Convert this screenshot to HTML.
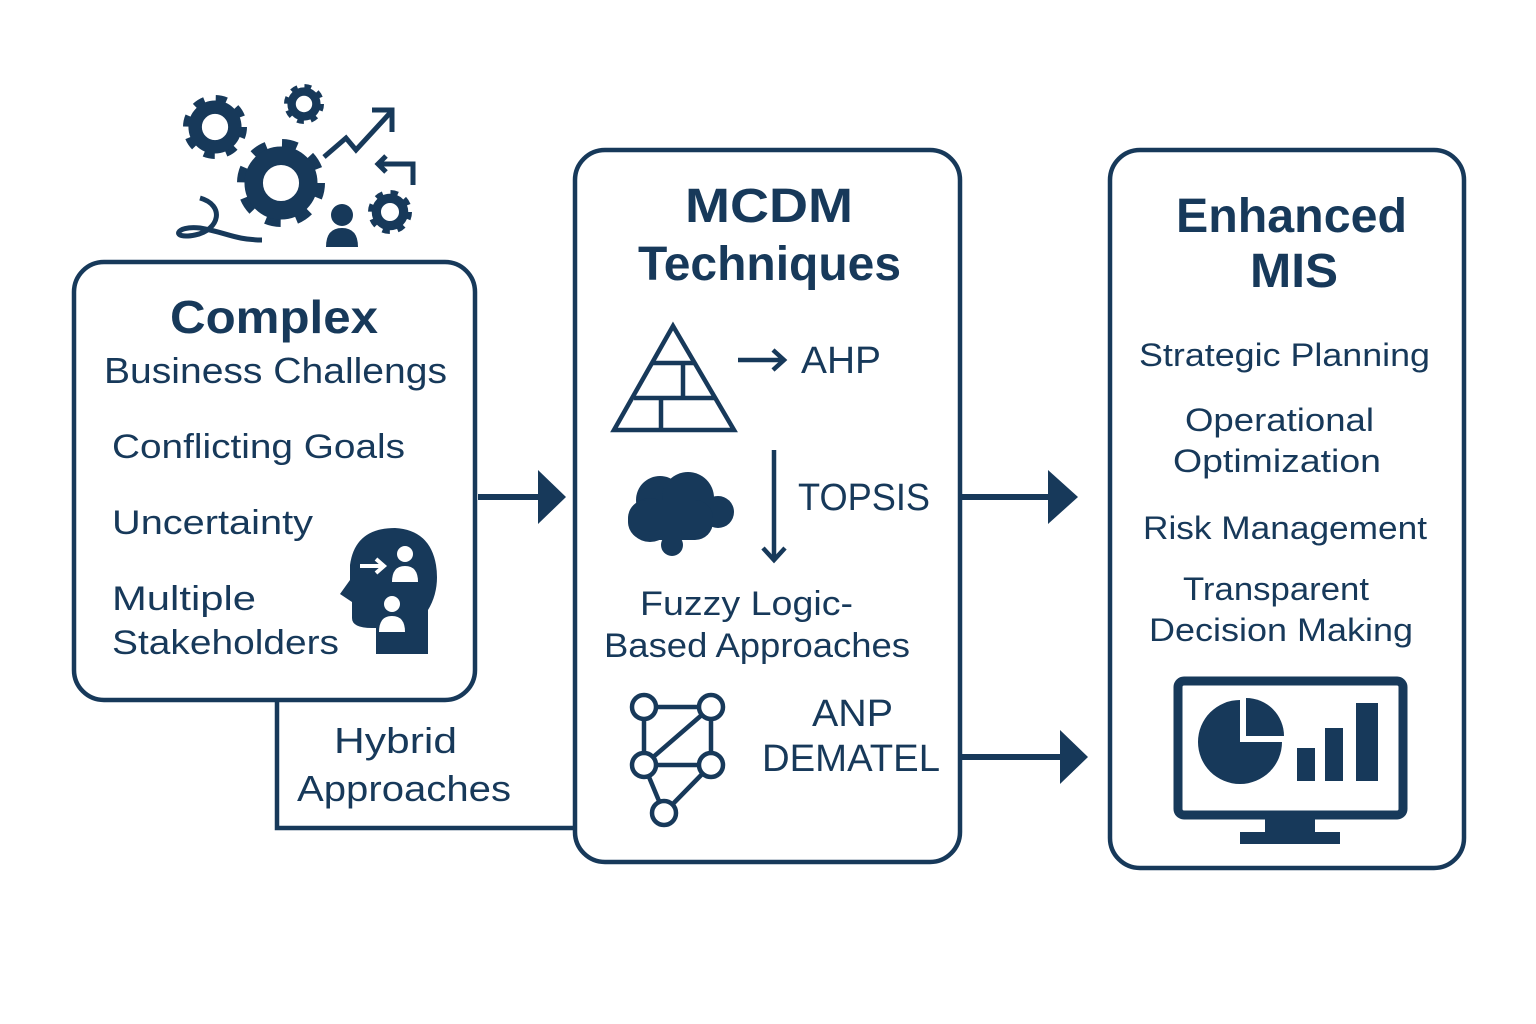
<!DOCTYPE html>
<html><head><meta charset="utf-8"><style>
html,body{margin:0;padding:0;background:#fff;}
svg{display:block;}
text{font-family:"Liberation Sans","DejaVu Sans",sans-serif;fill:#17395a;}
</style></head><body>
<svg width="1536" height="1024" viewBox="0 0 1536 1024" xmlns="http://www.w3.org/2000/svg">
<defs>
<g id="gear">
  <circle r="0.78" fill="none" stroke="#17395a" stroke-width="0.44" stroke-dasharray="0.3 0.315"/>
  <circle r="0.62" fill="none" stroke="#17395a" stroke-width="0.42"/>
</g>
</defs>
<g stroke="#17395a" fill="none" stroke-width="4.5">
  <rect x="74" y="262" width="401" height="438" rx="30"/>
  <rect x="575" y="150" width="385" height="712" rx="30"/>
  <rect x="1110" y="150" width="354" height="718" rx="30"/>
  <polyline points="277,700 277,828 575,828"/>
  <line x1="478" y1="497" x2="542" y2="497" stroke-width="6"/>
  <line x1="962" y1="497" x2="1052" y2="497" stroke-width="6"/>
  <line x1="962" y1="757" x2="1062" y2="757" stroke-width="6"/>
</g>
<g fill="#17395a">
  <polygon points="538,470 566,497 538,524"/>
  <polygon points="1048,470 1078,497 1048,524"/>
  <polygon points="1060,730 1088,757 1060,784"/>
</g>
<use href="#gear" transform="translate(215,127) scale(32)"/>
<use href="#gear" transform="translate(304,104) scale(20)"/>
<use href="#gear" transform="translate(281,183) scale(44)"/>
<use href="#gear" transform="translate(390,212) scale(22)"/>
<g stroke="#17395a" fill="none" stroke-width="5">
  <polyline points="324,157 346,138 356,150 390,113"/>
  <polyline points="372,110 392,110 392,132"/>
  <polyline points="413,185 413,164 378,164"/>
  <polyline points="386,156 378,164 386,172"/>
  <path d="M200,198 C225,205 220,230 195,235 C170,240 175,225 200,228 C225,232 235,240 262,240"/>
</g>
<circle cx="342" cy="215" r="11" fill="#17395a"/>
<path d="M326,247 Q326,228 342,228 Q358,228 358,247 Z" fill="#17395a"/>
<path d="M350,580 L340,594 L352,602 L352,618 Q352,628 372,628 L376,628 L376,654 L428,654 L428,610 Q440,590 436,565 Q430,530 395,528 Q355,528 350,565 Z" fill="#17395a"/>
<g fill="#fff"><circle cx="405" cy="554" r="8"/><path d="M392,582 Q392,566 405,566 Q418,566 418,582 Z"/>
<circle cx="392" cy="604" r="8"/><path d="M379,632 Q379,616 392,616 Q405,616 405,632 Z"/></g>
<g stroke="#fff" stroke-width="4" fill="none"><line x1="360" y1="566" x2="382" y2="566"/><polyline points="376,559 384,566 376,573"/></g>
<text x="170" y="333" font-size="46" font-weight="bold" textLength="208" lengthAdjust="spacingAndGlyphs">Complex</text>
<text x="104" y="383" font-size="36" textLength="343" lengthAdjust="spacingAndGlyphs">Business Challengs</text>
<text x="112" y="458" font-size="34" textLength="293" lengthAdjust="spacingAndGlyphs">Conflicting Goals</text>
<text x="112" y="534" font-size="34" textLength="201" lengthAdjust="spacingAndGlyphs">Uncertainty</text>
<text x="112" y="610" font-size="34" textLength="144" lengthAdjust="spacingAndGlyphs">Multiple</text>
<text x="112" y="654" font-size="34" textLength="227" lengthAdjust="spacingAndGlyphs">Stakeholders</text>
<text x="334" y="753" font-size="36" textLength="123" lengthAdjust="spacingAndGlyphs">Hybrid</text>
<text x="297" y="801" font-size="36" textLength="214" lengthAdjust="spacingAndGlyphs">Approaches</text>
<text x="685" y="222" font-size="48" font-weight="bold" textLength="168" lengthAdjust="spacingAndGlyphs">MCDM</text>
<text x="638" y="280" font-size="48" font-weight="bold" textLength="263" lengthAdjust="spacingAndGlyphs">Techniques</text>
<g stroke="#17395a" fill="none" stroke-width="4.5">
  <polygon points="673,326 614,430 734,430"/>
  <line x1="653" y1="363" x2="694" y2="363"/><line x1="634" y1="398" x2="714" y2="398"/>
  <line x1="683" y1="363" x2="683" y2="398"/><line x1="661" y1="398" x2="661" y2="430"/>
  <line x1="738" y1="360" x2="784" y2="360"/><polyline points="773,350 784,360 773,370"/>
  <line x1="774" y1="450" x2="774" y2="560"/><polyline points="763,548 774,560 785,548"/>
</g>
<text x="801" y="373" font-size="38" textLength="80" lengthAdjust="spacingAndGlyphs">AHP</text>
<text x="798" y="510" font-size="38" textLength="132" lengthAdjust="spacingAndGlyphs">TOPSIS</text>
<g fill="#17395a">
  <circle cx="660" cy="500" r="24"/><circle cx="688" cy="498" r="26"/><circle cx="650" cy="520" r="22"/>
  <circle cx="718" cy="512" r="16"/><circle cx="672" cy="545" r="11"/>
  <rect x="628" y="500" width="85" height="40" rx="18"/>
</g>
<text x="640" y="615" font-size="34" textLength="213" lengthAdjust="spacingAndGlyphs">Fuzzy Logic-</text>
<text x="604" y="657" font-size="34" textLength="306" lengthAdjust="spacingAndGlyphs">Based Approaches</text>
<g stroke="#17395a" fill="none" stroke-width="4.5">
  <line x1="644" y1="707" x2="711" y2="707"/><line x1="644" y1="707" x2="644" y2="765"/>
  <line x1="711" y1="707" x2="711" y2="765"/><line x1="711" y1="707" x2="644" y2="765"/>
  <line x1="644" y1="765" x2="711" y2="765"/><line x1="644" y1="765" x2="664" y2="813"/>
  <line x1="711" y1="765" x2="664" y2="813"/>
  <g fill="#fff"><circle cx="644" cy="707" r="12"/><circle cx="711" cy="707" r="12"/>
  <circle cx="644" cy="765" r="12"/><circle cx="711" cy="765" r="12"/><circle cx="664" cy="813" r="12"/></g>
</g>
<text x="812" y="726" font-size="38" textLength="81" lengthAdjust="spacingAndGlyphs">ANP</text>
<text x="762" y="771" font-size="38" textLength="178" lengthAdjust="spacingAndGlyphs">DEMATEL</text>
<text x="1176" y="232" font-size="48" font-weight="bold" textLength="231" lengthAdjust="spacingAndGlyphs">Enhanced</text>
<text x="1250" y="287" font-size="48" font-weight="bold" textLength="88" lengthAdjust="spacingAndGlyphs">MIS</text>
<text x="1139" y="366" font-size="32" textLength="291" lengthAdjust="spacingAndGlyphs">Strategic Planning</text>
<text x="1185" y="431" font-size="32" textLength="189" lengthAdjust="spacingAndGlyphs">Operational</text>
<text x="1173" y="472" font-size="32" textLength="208" lengthAdjust="spacingAndGlyphs">Optimization</text>
<text x="1143" y="539" font-size="32" textLength="284" lengthAdjust="spacingAndGlyphs">Risk Management</text>
<text x="1183" y="600" font-size="32" textLength="186" lengthAdjust="spacingAndGlyphs">Transparent</text>
<text x="1149" y="641" font-size="32" textLength="264" lengthAdjust="spacingAndGlyphs">Decision Making</text>
<rect x="1178" y="681" width="225" height="134" rx="6" fill="none" stroke="#17395a" stroke-width="9"/>
<rect x="1265" y="815" width="50" height="22" fill="#17395a"/>
<rect x="1240" y="832" width="100" height="12" fill="#17395a"/>
<path d="M1240,742 L1240,700 A42,42 0 1 0 1282,742 Z" fill="#17395a"/>
<path d="M1246,736 L1246,698 A38,38 0 0 1 1284,736 Z" fill="#17395a"/>
<rect x="1297" y="748" width="18" height="33" fill="#17395a"/>
<rect x="1325" y="728" width="18" height="53" fill="#17395a"/>
<rect x="1356" y="703" width="22" height="78" fill="#17395a"/>
</svg>
</body></html>
